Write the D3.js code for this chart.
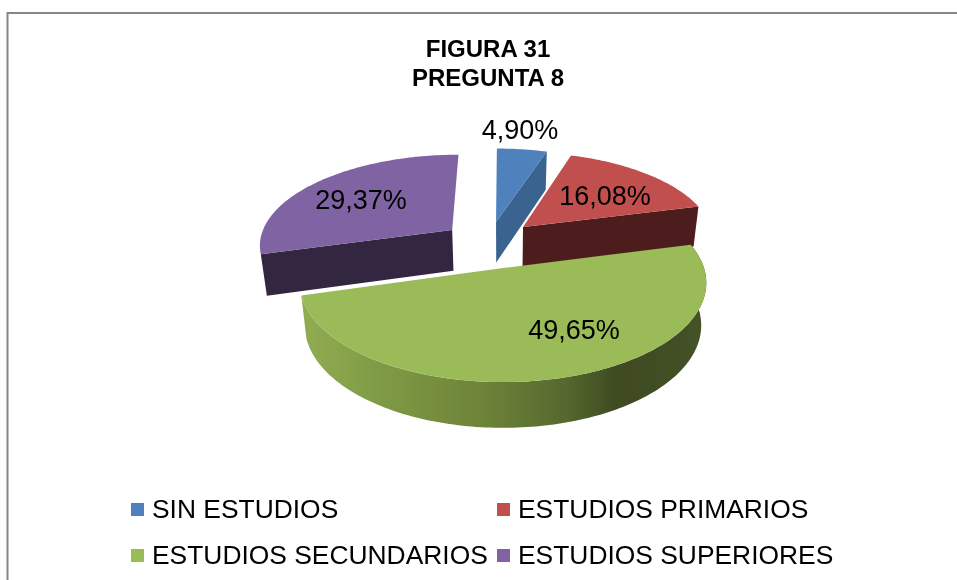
<!DOCTYPE html>
<html><head><meta charset="utf-8">
<script src="https://cdn.jsdelivr.net/npm/d3@7/dist/d3.min.js"></script>
<style>html,body{margin:0;padding:0;background:#fff}svg{display:block}text{font-family:"Liberation Sans",Arial,sans-serif;fill:#000}</style>
</head><body>
<script>
const categories = ["SIN ESTUDIOS","ESTUDIOS PRIMARIOS","ESTUDIOS SECUNDARIOS","ESTUDIOS SUPERIORES"];
const percentages = [4.90,16.08,49.65,29.37];
const valueLabels = ["4,90%","16,08%","49,65%","29,37%"];
const titleLines = ["FIGURA 31","PREGUNTA 8"];
const topColors = ["#4f81bd","#c0504d","#9bbb59","#8064a2"];
const sideColors = ["#3a6390","#4d1f1d",null,"#33253f"];

const W=957,H=580;
const cx=503,cy=268,R=201,Rz=97,persp=0.15/97,depth=42,converge=0.025;
const explodeX=[-7.5,21.4,0,-54], explodeZ=[-49.5,-43.8,0,-40.4];
const labelPos=[[520,139],[605,205],[574,339],[361,209]];
const sideAngle=["end","end",null,"start"];

const svg=d3.select("body").append("svg").attr("width",W).attr("height",H);
const defs=svg.append("defs");
defs.append("filter").attr("id","soft").attr("x","-5%").attr("y","-5%").attr("width","110%").attr("height","110%")
  .append("feGaussianBlur").attr("stdDeviation",0.6);
const grad=defs.append("linearGradient").attr("id","rim").attr("gradientUnits","userSpaceOnUse")
  .attr("x1",cx-R).attr("x2",cx+R).attr("y1",0).attr("y2",0);
[[0,"#91ad52"],[0.2,"#7f9a45"],[0.45,"#6d8338"],[0.65,"#566a2e"],[0.78,"#3f4b22"],[1,"#445226"]]
  .forEach(([o,c])=>grad.append("stop").attr("offset",o).attr("stop-color",c));

const root=svg.append("g").attr("filter","url(#soft)");
root.append("path").attr("d",`M7.5,${H}V13H${W}`).attr("fill","none").attr("stroke","#868686").attr("stroke-width",2);

function project(a,rad,i,low){
  const X=explodeX[i]+rad*R*Math.sin(a), Z=explodeZ[i]-rad*Rz*Math.cos(a);
  const s=1/(1-persp*Z);
  return low ? [cx+X*s*(1-converge), cy+Z*s+depth*(1+0.5*(s-1))] : [cx+X*s, cy+Z*s];
}
const line=d3.line();
const slices=d3.pie().sort(null).value(d=>d)(percentages);
function arcPts(d,i,low){
  const n=Math.ceil((d.endAngle-d.startAngle)/0.02);
  return d3.range(n+1).map(k=>project(d.startAngle+(d.endAngle-d.startAngle)*k/n,1,i,low));
}
const order=[0,1,3,2];
order.forEach(i=>{
  const d=slices[i];
  if(sideAngle[i]){
    const a=d[sideAngle[i]+"Angle"];
    root.append("path").attr("fill",sideColors[i])
      .attr("d",line([project(a,0,i,false),project(a,1,i,false),project(a,1,i,true),project(a,0,i,true)])+"Z");
  } else {
    const top=arcPts(d,i,false), low=arcPts(d,i,true).reverse();
    root.append("path").attr("fill","url(#rim)").attr("d",line(top.concat(low))+"Z");
  }
  root.append("path").attr("fill",topColors[i])
    .attr("d",line([project(d.startAngle,0,i,false)].concat(arcPts(d,i,false)))+"Z");
});

root.selectAll("text.title").data(titleLines).join("text").attr("class","title")
  .attr("x",488).attr("y",(d,i)=>57+i*29).attr("text-anchor","middle")
  .attr("font-size",24).attr("font-weight","bold").text(d=>d);

root.selectAll("text.val").data(valueLabels).join("text").attr("class","val")
  .attr("x",(d,i)=>labelPos[i][0]).attr("y",(d,i)=>labelPos[i][1])
  .attr("text-anchor","middle").attr("font-size",27).text(d=>d);

const legX=d3.scaleOrdinal().domain([0,1]).range([131,497]);
const legY=d3.scaleOrdinal().domain([0,1]).range([518,564]);
const leg=root.selectAll("g.leg").data(categories).join("g").attr("class","leg")
  .attr("transform",(d,i)=>`translate(${legX(i%2)},${legY(Math.floor(i/2))})`);
leg.append("rect").attr("x",0).attr("y",-15).attr("width",13).attr("height",13).attr("fill",(d,i)=>topColors[i]);
leg.append("text").attr("x",21).attr("y",0).attr("font-size",26.4).text(d=>d);
</script>
</body></html>
